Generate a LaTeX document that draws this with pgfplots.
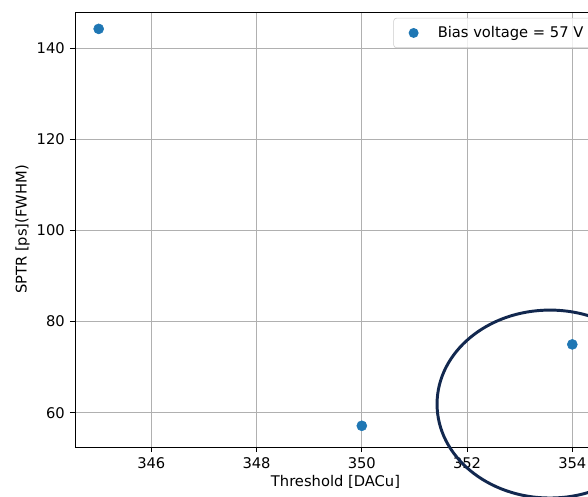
\documentclass[border=0pt]{standalone}
\usepackage{pgfplots}
\pgfplotsset{compat=1.18}
\usepackage{fontspec}
\setmainfont{DejaVu Sans}
\definecolor{mplblue}{HTML}{1F77B4}
\definecolor{navyring}{HTML}{12284F}
\begin{document}
\fontsize{10}{12}\selectfont
\begin{tikzpicture}
\useasboundingbox (-51pt,-34pt) rectangle (348.84pt,303.96pt);
\clip (-51pt,-34pt) rectangle (348.84pt,303.96pt);
\begin{axis}[
  at={(0pt,0pt)}, anchor=south west,
  scale only axis, width=354.28pt, height=295.8pt,
  xmin=344.55, xmax=354.45, ymin=52.5, ymax=147.9,
  xtick={346,348,350,352,354}, ytick={60,80,100,120,140},
  grid=major, grid style={color=black!31, line width=0.55pt},
  tick align=outside, major tick length=3.4pt,
  tick style={black, line width=0.55pt},
  tick pos=left,
  axis line style={line width=0.55pt},
  /pgf/number format/assume math mode=true,
  /pgf/number format/1000 sep={},
  every tick label/.append style={font=\fontsize{10}{12}\selectfont},
  xlabel={Threshold [DACu]}, ylabel={SPTR [ps](FWHM)},
  label style={font=\fontsize{10}{12}\selectfont},
  xlabel style={yshift=2pt},
  ylabel style={yshift=-2pt},
  legend style={at={(rel axis cs:1,1)}, anchor=north east, xshift=-1.4pt, yshift=-4.0pt,
    draw=black!20, rounded corners=2pt, fill=white, fill opacity=0.8, text opacity=1,
    font=\fontsize{10}{12}\selectfont, inner xsep=5pt, inner ysep=3.5pt},
  legend cell align=left,
  legend image code/.code={
    \path[draw=none, fill=none] (0pt,0pt) -- (23pt,0pt);
    \fill[mplblue, draw=none, opacity=1, fill opacity=1] (8.6pt,0pt) circle (3.4pt);
  },
]
\addplot[only marks, mark=*, mark size=3.4pt, color=mplblue] coordinates {
  (345,144.2) (350,57.15) (354,75.0)
};
\addlegendentry{Bias voltage = 57 V}
\end{axis}
\draw[navyring, line width=2pt] (323pt,29.2pt) ellipse [x radius=76.8pt, y radius=63.9pt];
\end{tikzpicture}
\end{document}
